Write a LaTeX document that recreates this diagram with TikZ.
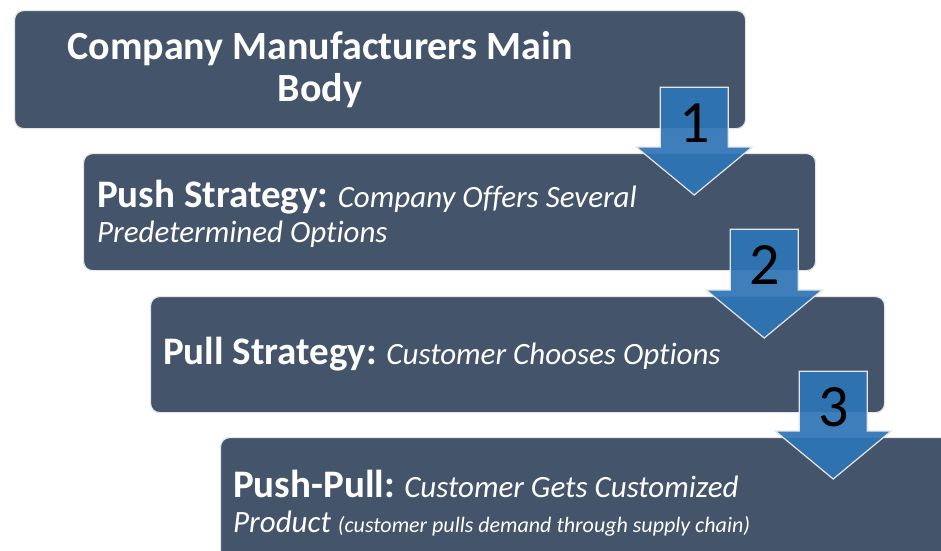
\documentclass[tikz,border=0pt]{standalone}
\usepackage{fontspec}
\setmainfont{Carlito}[Ligatures=NoCommon]
\usetikzlibrary{calc}

\definecolor{slate}{HTML}{44546A}
\definecolor{stepblue}{HTML}{2E75B6}

% bold lead-in of a stage text
\newcommand\lead[1]{{\fontsize{39}{35}\selectfont\upshape\bfseries #1}}
% block arrow from the lower right of one stage into the next
\newcommand\steparrow[3]{%
    \path let \p1=(#1.south east), \p2=(#2.north) in
        [flow] (\x1-86pt,\y1+42pt) -- (\x1-18pt,\y1+42pt) -- (\x1-18pt,\y2+6pt)
        -- (\x1+6pt,\y2+6pt) -- (\x1-52pt,\y2-42pt) -- (\x1-110pt,\y2+6pt)
        -- (\x1-86pt,\y2+6pt) -- cycle
        node[num] (n#3) at (\x1-52pt,\y1+6pt) {#3};
}

\begin{document}
\begin{tikzpicture}[x=1pt,y=-1pt,
    stage/.style={rectangle,rounded corners=9pt,fill=slate,draw=gray!20,line width=1.2pt,anchor=north west,inner sep=0pt},
    title/.style={text=white,font=\fontsize{40}{42}\selectfont\bfseries,align=center},
    info/.style={text=white,anchor=west,align=left,inner sep=0pt,font=\fontsize{31}{35}\selectfont\itshape},
    flow/.style={fill=stepblue,draw=white!80!gray,line width=1.2pt,fill opacity=.92},
    num/.style={text=black,text opacity=1,font=\fontsize{60}{60}\selectfont},
]
\clip (0,0) rectangle (941,550);
\fill[white] (0,0) rectangle (941,550);

\node[stage,minimum width=731pt,minimum height=118pt] (body) at (14,10) {};
\node[stage,minimum width=732pt,minimum height=117pt] (push) at (83,153) {};
\node[stage,minimum width=734pt,minimum height=116pt] (pull) at (150,296) {};
\node[stage,minimum width=760pt,minimum height=125pt] (pushpull) at (220,437) {};

\node[title] (bodytext) at (320,70) {Company Manufacturers Main\\Body};
\node[info] (pushtext) at ([xshift=14pt,yshift=-2pt]push.west)
    {\lead{Push Strategy:} Company Offers Several\\Predetermined Options};
\node[info] (pulltext) at ([xshift=13pt]pull.west)
    {\lead{Pull Strategy:} Customer Chooses Options};
\node[info] (pushpulltext) at ([xshift=13pt,yshift=-3pt]pushpull.west)
    {\lead{Push-Pull:} Customer Gets Customized\\Product {\fontsize{22}{22}\selectfont(customer pulls demand through supply chain)}};

\steparrow{body}{push}{1}
\steparrow{push}{pull}{2}
\steparrow{pull}{pushpull}{3}
\end{tikzpicture}
\end{document}
